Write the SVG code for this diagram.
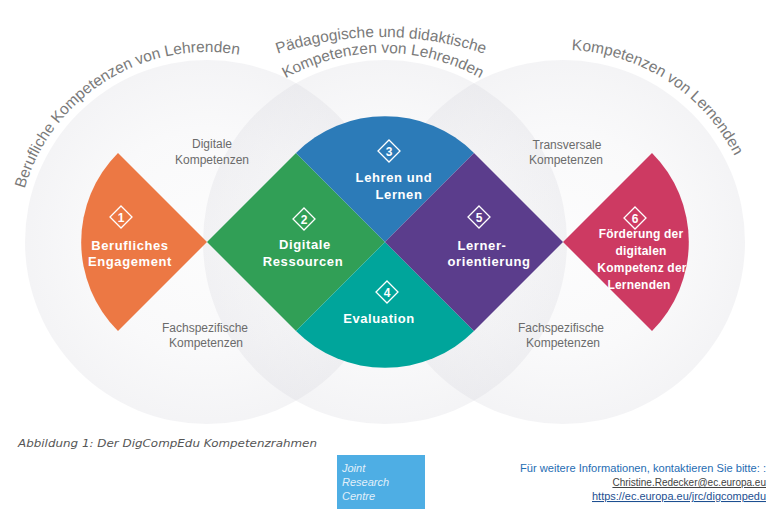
<svg xmlns="http://www.w3.org/2000/svg" width="772" height="509" viewBox="0 0 772 509">
<defs>
<radialGradient id="bg">
<stop offset="0" stop-color="#d0d0d8" stop-opacity="0.06"/>
<stop offset="0.6" stop-color="#d0d0d8" stop-opacity="0.12"/>
<stop offset="1" stop-color="#d0d0d8" stop-opacity="0.24"/>
</radialGradient>
<path id="arcL" d="M17.1,248.6 A190,190 0 0 1 296.2,74.2"/>
<path id="arcM1" d="M196,94.4 A327,327 0 0 1 566,94.4"/>
<path id="arcM2" d="M203,167 A199,199 0 0 1 563,167"/>
<path id="arcR" d="M475.8,70.9 A192,192 0 0 1 754.7,252"/>
</defs>
<style>
.ring{fill:url(#bg)}
.curve{font-family:"Liberation Sans",Arial,sans-serif;font-size:15.5px;fill:#7a7a7a}
.grey{font-family:"Liberation Sans",Arial,sans-serif;font-size:12px;fill:#6b6b6b;text-anchor:middle}
.lbl{font-family:"Liberation Sans",Arial,sans-serif;font-size:13px;font-weight:bold;fill:#ffffff;text-anchor:middle;letter-spacing:0.6px}
.lbl6{font-family:"Liberation Sans",Arial,sans-serif;font-size:12px;font-weight:bold;fill:#ffffff;text-anchor:middle;letter-spacing:0.2px}
.dia{fill:none;stroke:#ffffff;stroke-width:1.3}
.num{font-family:"Liberation Sans",Arial,sans-serif;font-size:12px;font-weight:bold;fill:#ffffff;text-anchor:middle}
.foot{font-family:"Liberation Sans",Arial,sans-serif;text-anchor:end}
</style>
<rect width="772" height="509" fill="#ffffff"/>
<g id="background">
<circle class="ring" cx="207" cy="242" r="182"/>
<circle class="ring" cx="385" cy="242" r="182"/>
<circle class="ring" cx="563" cy="242" r="182"/>
</g>
<g id="titles">
<text class="curve"><textPath href="#arcL" startOffset="50%" text-anchor="middle">Berufliche Kompetenzen von Lehrenden</textPath></text>
<text class="curve"><textPath href="#arcM1" startOffset="50%" text-anchor="middle">Pädagogische und didaktische</textPath></text>
<text class="curve"><textPath href="#arcM2" startOffset="50%" text-anchor="middle">Kompetenzen von Lehrenden</textPath></text>
<text class="curve"><textPath href="#arcR" startOffset="50%" text-anchor="middle">Kompetenzen von Lernenden</textPath></text>
</g>
<g id="sublabels">
<text class="grey" x="212" y="148">Digitale</text>
<text class="grey" x="212" y="164">Kompetenzen</text>
<text class="grey" x="205" y="332">Fachspezifische</text>
<text class="grey" x="206" y="347">Kompetenzen</text>
<text class="grey" x="567" y="149">Transversale</text>
<text class="grey" x="566" y="164">Kompetenzen</text>
<text class="grey" x="561" y="332">Fachspezifische</text>
<text class="grey" x="563" y="347">Kompetenzen</text>
</g>
<g id="node1">
<path d="M207,242 L118,153 A126,126 0 0 0 118,331 Z" fill="#ec7844"/>
<path class="dia" d="M121,206 L132,217 L121,228 L110,217 Z"/>
<text class="num" x="121" y="221.5">1</text>
<text class="lbl" x="130" y="250">Berufliches</text>
<text class="lbl" x="130" y="266">Engagement</text>
</g>
<g id="node2">
<path d="M207,242 L296,153 L385,242 L296,331 Z" fill="#319f56"/>
<path class="dia" d="M304,208 L315,219 L304,230 L293,219 Z"/>
<text class="num" x="304" y="223.5">2</text>
<text class="lbl" x="305" y="249">Digitale</text>
<text class="lbl" x="303" y="266">Ressourcen</text>
</g>
<g id="node3">
<path d="M296,153 L385,242 L474,153 A126,126 0 0 0 296,153 Z" fill="#2c7bb8"/>
<path class="dia" d="M389,140 L400,151 L389,162 L378,151 Z"/>
<text class="num" x="389" y="155.5">3</text>
<text class="lbl" x="394" y="182">Lehren und</text>
<text class="lbl" x="399" y="199">Lernen</text>
</g>
<g id="node4">
<path d="M296,331 L385,242 L474,331 A126,126 0 0 1 296,331 Z" fill="#00a59b"/>
<path class="dia" d="M387,281 L398,292 L387,303 L376,292 Z"/>
<text class="num" x="387" y="296.5">4</text>
<text class="lbl" x="379" y="323">Evaluation</text>
</g>
<g id="node5">
<path d="M385,242 L474,153 L563,242 L474,331 Z" fill="#5b3d8c"/>
<path class="dia" d="M479,206 L490,217 L479,228 L468,217 Z"/>
<text class="num" x="479" y="221.5">5</text>
<text class="lbl" x="482" y="250">Lerner-</text>
<text class="lbl" x="489" y="266">orientierung</text>
</g>
<g id="node6">
<path d="M563,242 L652,153 A126,126 0 0 1 652,331 Z" fill="#cd3a62"/>
<path class="dia" d="M635,207 L646,218 L635,229 L624,218 Z"/>
<text class="num" x="635" y="222.5">6</text>
<text class="lbl6" x="641" y="238">Förderung der</text>
<text class="lbl6" x="641" y="255">digitalen</text>
<text class="lbl6" x="642" y="272">Kompetenz der</text>
<text class="lbl6" x="639" y="289">Lernenden</text>
</g>
<g id="connectors"></g>
<g id="footer">
<text x="18" y="447" font-family="DejaVu Sans,Verdana,sans-serif" font-size="11" font-style="italic" fill="#555555" textLength="299" lengthAdjust="spacingAndGlyphs">Abbildung 1: Der DigCompEdu Kompetenzrahmen</text>
<rect x="337" y="455" width="88" height="54" fill="#4eaee4"/>
<g font-family="Liberation Sans,Arial,sans-serif" font-size="11" font-style="italic" fill="#e2f0fa">
<text x="342" y="472">Joint</text>
<text x="342" y="486">Research</text>
<text x="342" y="500">Centre</text>
</g>
<text class="foot" x="766" y="472" font-size="11" fill="#1f6db3" textLength="246" lengthAdjust="spacingAndGlyphs">Für weitere Informationen, kontaktieren Sie bitte: :</text>
<text class="foot" x="766" y="486" font-size="10" fill="#444444" text-decoration="underline">Christine.Redecker@ec.europa.eu</text>
<text class="foot" x="766" y="500" font-size="10.5" fill="#1d4f91" text-decoration="underline" textLength="174" lengthAdjust="spacingAndGlyphs">https://ec.europa.eu/jrc/digcompedu</text>
</g>
</svg>
